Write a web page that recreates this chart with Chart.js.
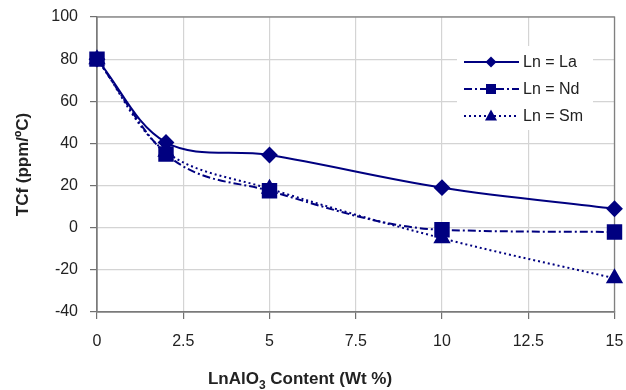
<!DOCTYPE html>
<html>
<head>
<meta charset="UTF-8">
<title>TCf vs LnAlO3 content</title>
<script src="https://cdn.jsdelivr.net/npm/chart.js"></script>
<style>
  html, body { margin: 0; padding: 0; background: #fff; }
  #wrap { width: 626px; height: 390px; }
</style>
</head>
<body>
<div id="wrap"><canvas id="grafica" width="626" height="390"></canvas></div>
<script>
// datos
const contenido = [0, 2, 5, 10, 15];
const tcfLa = [80, 40.5, 34.5, 19, 9];
const tcfNd = [80, 35, 17.5, -1, -2];
const tcfSm = [80, 36, 18.5, -5, -24];
const etiquetas = ["Ln = La", "Ln = Nd", "Ln = Sm"];
const ticksX = [0, 2.5, 5, 7.5, 10, 12.5, 15];

const azul = "#000080";
const fuente = "'Liberation Sans', Arial, sans-serif";

function puntos(ys) {
    return contenido.map((x, i) => ({ x, y: ys[i] }));
}

function marcador(ctx, tipo, x, y, r) {
    ctx.beginPath();
    if (tipo === "rectRot") {
        ctx.moveTo(x, y - r); ctx.lineTo(x + r, y); ctx.lineTo(x, y + r); ctx.lineTo(x - r, y);
    } else if (tipo === "rect") {
        ctx.rect(x - r, y - r, 2 * r, 2 * r);
    } else {
        ctx.moveTo(x, y - r * 1.1); ctx.lineTo(x + r, y + r * 0.75); ctx.lineTo(x - r, y + r * 0.75);
    }
    ctx.closePath();
    ctx.fill();
}

// marco, leyenda y titulos de los ejes
const extras = {
    id: "extras",
    beforeDatasetsDraw(chart) {
        const { ctx, chartArea: a } = chart;
        ctx.save();
        ctx.strokeStyle = "#808080";
        ctx.lineWidth = 1.3;
        ctx.strokeRect(a.left, a.top, a.right - a.left, a.bottom - a.top);
        ctx.restore();
    },
    afterDraw(chart) {
        const { ctx, chartArea: a } = chart;
        ctx.save();
        // leyenda
        ctx.fillStyle = "#fff";
        ctx.fillRect(457, 46, 136, 84);
        const tipos = ["rectRot", "rect", "triangle"];
        const tams = [5.5, 5, 6];
        chart.data.datasets.forEach((ds, i) => {
            const y = 62 + i * 27;
            ctx.strokeStyle = azul;
            ctx.fillStyle = azul;
            ctx.lineWidth = 1.8;
            ctx.setLineDash(ds.borderDash || []);
            ctx.beginPath();
            ctx.moveTo(464, y); ctx.lineTo(519, y);
            ctx.stroke();
            ctx.setLineDash([]);
            marcador(ctx, tipos[i], 491, y, tams[i]);
            ctx.fillStyle = "#222";
            ctx.font = "16px " + fuente;
            ctx.textAlign = "left";
            ctx.textBaseline = "middle";
            ctx.fillText(etiquetas[i], 523, y + 1);
        });

        // titulo eje x con subindice
        ctx.fillStyle = "#222";
        ctx.textBaseline = "alphabetic";
        const p1 = "LnAlO", p3 = " Content (Wt %)";
        ctx.font = "bold 17px " + fuente;
        const w1 = ctx.measureText(p1).width, w3 = ctx.measureText(p3).width;
        ctx.font = "bold 12px " + fuente;
        const w2 = ctx.measureText("3").width;
        let x0 = 300 - (w1 + w2 + w3) / 2;
        ctx.textAlign = "left";
        ctx.font = "bold 17px " + fuente;
        ctx.fillText(p1, x0, 384);
        ctx.font = "bold 12px " + fuente;
        ctx.fillText("3", x0 + w1, 389);
        ctx.font = "bold 17px " + fuente;
        ctx.fillText(p3, x0 + w1 + w2, 384);

        // titulo eje y
        ctx.translate(28, (a.top + a.bottom) / 2);
        ctx.rotate(-Math.PI / 2);
        ctx.textAlign = "center";
        ctx.fillText("TCf (ppm/\u00BAC)", 0, 0);
        ctx.restore();
    }
};

new Chart(document.getElementById("grafica"), {
    type: "line",
    data: {
        datasets: [
            {
                label: etiquetas[0], data: puntos(tcfLa),
                borderColor: azul, backgroundColor: azul, borderWidth: 2,
                pointStyle: "rectRot", pointRadius: 7, tension: 0.35, order: 3
            },
            {
                label: etiquetas[1], data: puntos(tcfNd),
                borderColor: azul, backgroundColor: azul, borderWidth: 2, borderDash: [8, 3, 2, 3],
                pointStyle: "rect", pointRadius: 9.5, cubicInterpolationMode: "monotone", order: 1
            },
            {
                label: etiquetas[2], data: puntos(tcfSm),
                borderColor: azul, backgroundColor: azul, borderWidth: 2, borderDash: [2, 3],
                pointStyle: "triangle", pointRadius: 8, tension: 0.35, order: 2
            }
        ]
    },
    options: {
        responsive: false,
        animation: false,
        clip: false,
        layout: { padding: { top: 17, right: 11, left: 0, bottom: 0 } },
        plugins: { legend: { display: false }, tooltip: { enabled: false } },
        scales: {
            x: {
                type: "linear", min: 0, max: 15,
                afterBuildTicks: s => { s.ticks = ticksX.map(v => ({ value: v })); },
                afterFit: s => { s.height = 78; s.paddingRight = 0; s.paddingLeft = 0; },
                grid: { color: "#d4d4d4", tickColor: "#707070", tickLength: 7, lineWidth: 1.2 },
                border: { color: "#707070", width: 1.3 },
                ticks: { color: "#222", font: { family: fuente, size: 16 }, padding: 13, maxRotation: 0 }
            },
            y: {
                min: -40, max: 100,
                ticks: { stepSize: 20, color: "#222", font: { family: fuente, size: 16 }, padding: 12 },
                afterFit: s => { s.width = 97; s.paddingTop = 0; s.paddingBottom = 0; },
                grid: { color: "#d4d4d4", tickColor: "#707070", tickLength: 7, lineWidth: 1.2 },
                border: { color: "#707070", width: 1.3 }
            }
        }
    },
    plugins: [extras]
});
</script>
</body>
</html>
